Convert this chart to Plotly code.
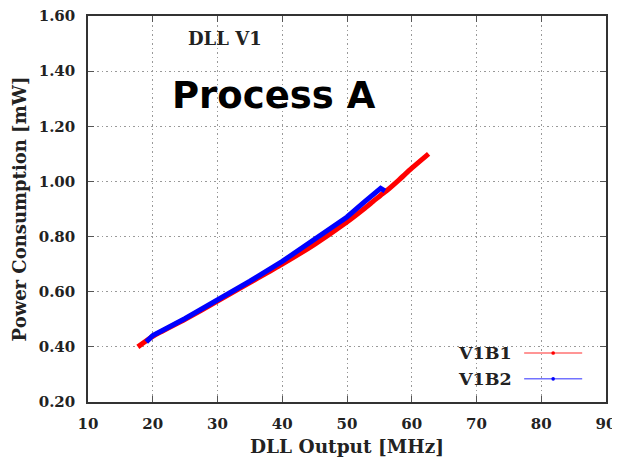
import plotly.graph_objects as go

# Data
red_x = [17.7, 20, 25, 30, 35, 40, 45, 50, 52.6, 54.1, 55.2, 56.1, 58, 60, 62.6]
red_y = [0.400, 0.438, 0.500, 0.566, 0.633, 0.700, 0.772, 0.853, 0.900, 0.929, 0.950, 0.966, 1.005, 1.048, 1.100]
blue_x = [19.0, 20, 25, 30, 35, 40, 45, 50, 52.6, 54.1, 55.2, 55.85]
blue_y = [0.418, 0.441, 0.503, 0.569, 0.638, 0.710, 0.788, 0.871, 0.924, 0.954, 0.975, 0.966]
series_names = ["V1B1", "V1B2"]
x_ticks = [10, 20, 30, 40, 50, 60, 70, 80, 90]
y_ticks = [0.20, 0.40, 0.60, 0.80, 1.00, 1.20, 1.40, 1.60]

SERIF = "DejaVu Serif"
fig = go.Figure()
fig.add_trace(go.Scatter(x=red_x, y=red_y, mode="lines", name=series_names[0],
                         line=dict(color="#ff0000", width=5, shape="spline", smoothing=0.6), showlegend=False))
fig.add_trace(go.Scatter(x=blue_x, y=blue_y, mode="lines", name=series_names[1],
                         line=dict(color="#0000ff", width=5), showlegend=False))

axis_common = dict(showline=True, linecolor="#333", linewidth=1.5, mirror="ticks",
                   ticks="inside", ticklen=6, tickcolor="#555",
                   showgrid=True, gridcolor="#999", griddash="1.5px,3px", gridwidth=1,
                   zeroline=False, automargin=False, ticklabeloverflow="allow",
                   tickfont=dict(family=SERIF, size=15, color="#222"))
fig.update_xaxes(range=[10, 90], tickvals=x_ticks, ticktext=["<b>%d</b>" % v for v in x_ticks],
                 ticklabelstandoff=7,
                 title=dict(text="<b>DLL Output [MHz]</b>", font=dict(family=SERIF, size=18.5, color="#222"), standoff=8),
                 **axis_common)
fig.update_yaxes(range=[0.20, 1.60], tickvals=y_ticks, ticktext=["<b>%.2f</b>" % v for v in y_ticks],
                 ticklabelstandoff=8,
                 title=dict(text="<b>Power Consumption [mW]</b>", font=dict(family=SERIF, size=18, color="#222"), standoff=7),
                 **axis_common)

annos = [
    dict(x=0.264, y=0.942, xref="paper", yref="paper", text="<b>DLL V1</b>", showarrow=False,
         xanchor="center", yanchor="middle", font=dict(family=SERIF, size=18, color="#222")),
    dict(x=0.360, y=0.795, xref="paper", yref="paper", text="<b>Process A</b>", showarrow=False,
         xanchor="center", yanchor="middle", font=dict(family="DejaVu Sans", size=37, color="#000")),
]
shapes = []
leg_y = [0.127, 0.060]
colors = ["#ff0000", "#0000ff"]
for name, ly, c in zip(series_names, leg_y, colors):
    annos.append(dict(x=0.818, y=ly, xref="paper", yref="paper", text="<b>%s</b>" % name,
                      showarrow=False, xanchor="right", yanchor="middle", xshift=2,
                      font=dict(family=SERIF, size=17.5, color="#222")))
    shapes.append(dict(type="line", xref="paper", yref="paper", x0=0.842, x1=0.954, y0=ly, y1=ly,
                       line=dict(color=c, width=1.5), opacity=0.55))
    shapes.append(dict(type="circle", xref="paper", yref="paper", x0=0.8945, x1=0.9015,
                       y0=ly - 0.0048, y1=ly + 0.0048, fillcolor=c, line=dict(color=c, width=0)))

# The page body adds an 8px offset, so the figure is 8px smaller with shifted margins
fig.update_layout(width=612, height=456, margin=dict(l=80, r=14, t=8, b=62),
                  plot_bgcolor="white", paper_bgcolor="white",
                  annotations=annos, shapes=shapes)
fig.write_html("out.html")
